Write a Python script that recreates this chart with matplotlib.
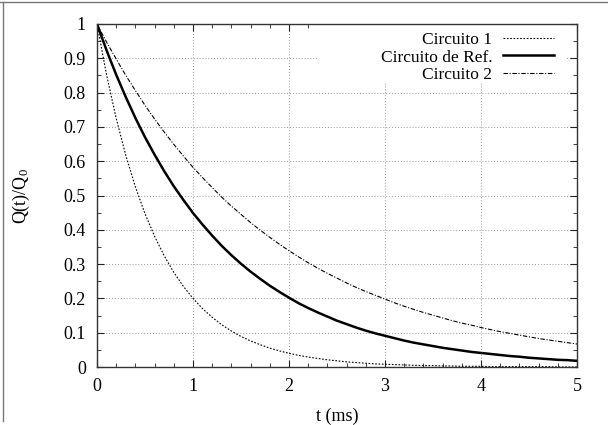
import numpy as np
import matplotlib.pyplot as plt
from matplotlib.lines import Line2D
from matplotlib.patches import Rectangle

plt.rcParams['font.family'] = ['Liberation Serif', 'DejaVu Serif']
plt.rcParams['mathtext.fontset'] = 'custom'
plt.rcParams['mathtext.rm'] = 'Liberation Serif'
plt.rcParams['mathtext.it'] = 'Liberation Serif'

t = np.round(np.arange(0, 5.01, 0.1), 1)

circuito1 = [1.000, 0.851, 0.725, 0.617, 0.525, 0.447, 0.381, 0.324, 0.276, 0.235,
             0.200, 0.170, 0.145, 0.123, 0.105, 0.089, 0.076, 0.065, 0.055, 0.047,
             0.040, 0.034, 0.029, 0.025, 0.021, 0.018, 0.015, 0.013, 0.011, 0.009,
             0.008, 0.007, 0.006, 0.005, 0.004, 0.004, 0.003, 0.003, 0.002, 0.002,
             0.002, 0.001, 0.001, 0.001, 0.001, 0.001, 0.001, 0.001, 0.000, 0.000,
             0.000]

circuito_ref = [1.000, 0.923, 0.852, 0.787, 0.726, 0.670, 0.619, 0.571, 0.527, 0.487,
                0.449, 0.415, 0.383, 0.353, 0.326, 0.301, 0.278, 0.257, 0.237, 0.219,
                0.202, 0.186, 0.172, 0.159, 0.147, 0.135, 0.125, 0.115, 0.106, 0.098,
                0.091, 0.084, 0.077, 0.071, 0.066, 0.061, 0.056, 0.052, 0.048, 0.044,
                0.041, 0.038, 0.035, 0.032, 0.030, 0.027, 0.025, 0.023, 0.021, 0.020,
                0.018]

circuito2 = [1.000, 0.947, 0.898, 0.850, 0.806, 0.763, 0.723, 0.685, 0.649, 0.615,
             0.582, 0.552, 0.523, 0.495, 0.469, 0.445, 0.421, 0.399, 0.378, 0.358,
             0.339, 0.321, 0.304, 0.288, 0.273, 0.259, 0.245, 0.232, 0.220, 0.209,
             0.198, 0.187, 0.177, 0.168, 0.159, 0.151, 0.143, 0.135, 0.128, 0.122,
             0.115, 0.109, 0.103, 0.098, 0.093, 0.088, 0.083, 0.079, 0.075, 0.071,
             0.067]

W, H = 608, 425
fig = plt.figure(figsize=(W / 100, H / 100), dpi=100)
ax = fig.add_axes([97 / W, 1 - 367 / H, 480 / W, 343 / H])

# grey frame on top and left edge of the picture
fig.add_artist(Line2D([0, 1], [1 - 1.5 / H, 1 - 1.5 / H], transform=fig.transFigure,
                      color='#777777', lw=1))
fig.add_artist(Line2D([3 / W, 3 / W], [1 - 1.5 / H, 1 - 421 / H], transform=fig.transFigure,
                      color='#777777', lw=1))

ax.plot(t, circuito1, color='black', lw=0.8, linestyle=(0, (1.5, 1.5)), label='Circuito 1')
ax.plot(t, circuito_ref, color='black', lw=1.8, label='Circuito de Ref.')
ax.plot(t, circuito2, color='black', lw=0.8, linestyle=(0, (4, 1.5, 1, 1.5)), label='Circuito 2')

ax.set_xlim(0, 5)
ax.set_ylim(0, 1)
ax.set_xticks(range(6))
ax.set_xticklabels(['0', '1', '2', '3', '4', '5'])
ax.set_yticks(np.round(np.arange(0, 1.01, 0.1), 1))
ax.set_yticklabels(['0', '0.1', '0.2', '0.3', '0.4', '0.5', '0.6', '0.7', '0.8', '0.9', '1'])
ax.set_xticks(np.arange(0, 5.01, 0.2), minor=True)
ax.set_yticks(np.arange(0, 1.001, 0.05), minor=True)
ax.tick_params(which='both', direction='in', top=True, right=True, labelsize=13,
               color='#222222')
ax.tick_params(which='major', length=5, pad=8)
ax.tick_params(which='minor', length=3)
for s in ax.spines.values():
    s.set_color('#333333')
    s.set_linewidth(1)

ax.grid(True, which='major', color='#999999', linestyle=(0, (1, 2)), lw=0.7)
ax.set_axisbelow(True)

# key area blanks out the grid, like gnuplot does
ax.add_patch(Rectangle((0.458, 0.828), 0.521, 0.172, transform=ax.transAxes,
                       facecolor='white', edgecolor='none', zorder=0.8))

ax.set_xlabel('t (ms)', fontsize=13)
ax.set_ylabel('Q(t)/Q$_0$', fontsize=13)
ax.xaxis.set_label_coords(0.5, -0.12)
ax.yaxis.set_label_coords(-0.135, 0.5)

leg = ax.legend(loc='upper right', bbox_to_anchor=(0.969, 1.0), fontsize=12.5,
                markerfirst=False, alignment='right', handlelength=2.94,
                handletextpad=0.63, labelspacing=0.08, borderpad=0.45,
                borderaxespad=0.0, frameon=False)

fig.savefig('out.png', dpi=100)
